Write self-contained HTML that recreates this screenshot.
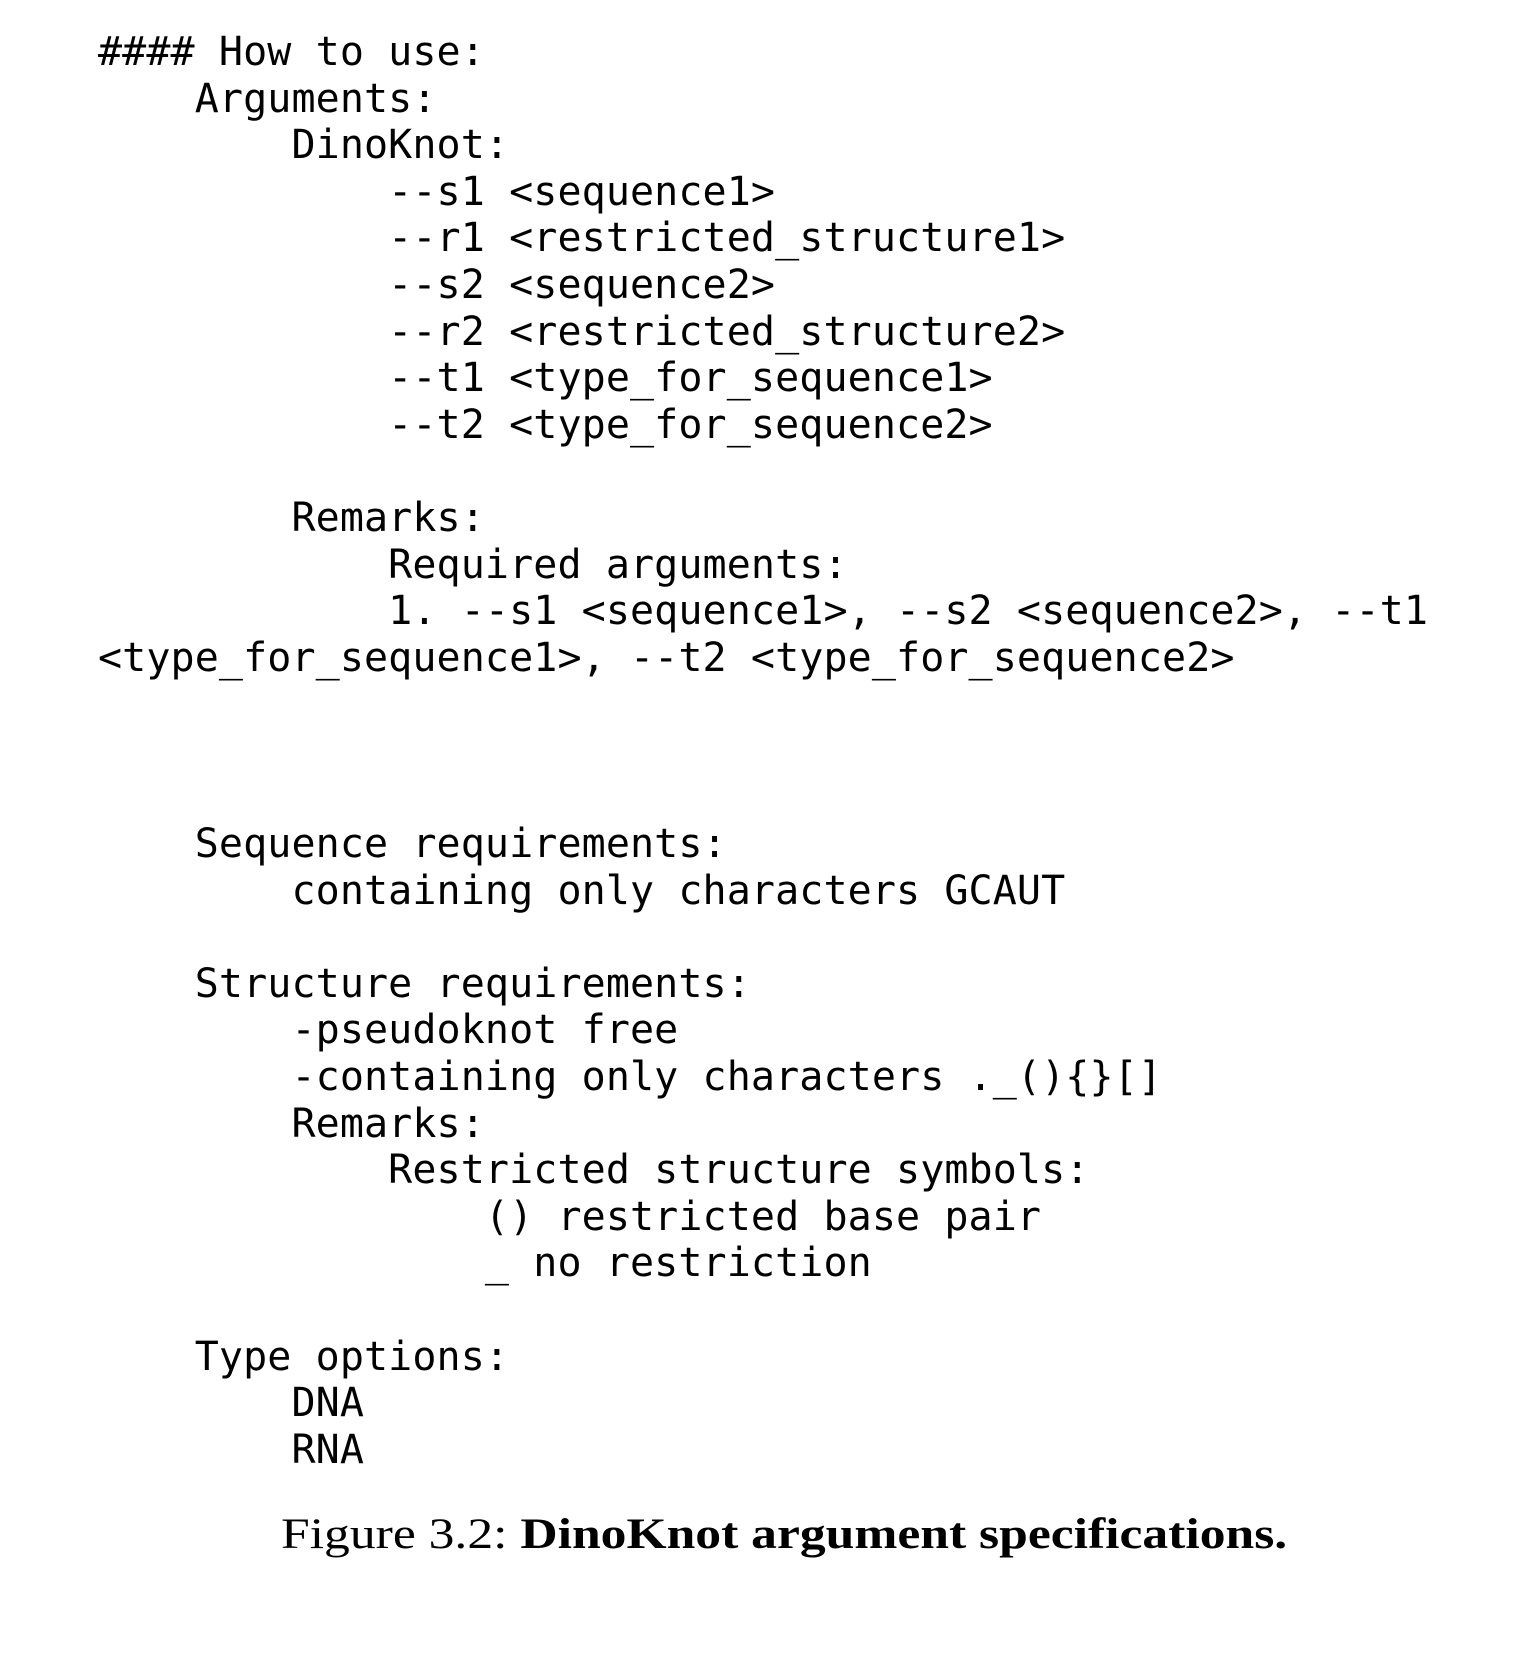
<!DOCTYPE html>
<html><head><style>
html,body{margin:0;padding:0;background:#fff;width:1530px;height:1656px;overflow:hidden}
pre{position:absolute;left:98px;top:29px;margin:0;font-family:"DejaVu Sans Mono","Liberation Mono",monospace;font-size:40px;line-height:46.6px;color:#000;letter-spacing:0.1px}
.cap{position:absolute;left:281px;top:1510px;font-family:"Liberation Serif",serif;font-size:43px;color:#000;white-space:nowrap;transform:scaleX(1.2);transform-origin:0 0}
</style></head><body>
<pre>#### How to use:
    Arguments:
        DinoKnot:
            --s1 &lt;sequence1&gt;
            --r1 &lt;restricted_structure1&gt;
            --s2 &lt;sequence2&gt;
            --r2 &lt;restricted_structure2&gt;
            --t1 &lt;type_for_sequence1&gt;
            --t2 &lt;type_for_sequence2&gt;

        Remarks:
            Required arguments:
            1. --s1 &lt;sequence1&gt;, --s2 &lt;sequence2&gt;, --t1
&lt;type_for_sequence1&gt;, --t2 &lt;type_for_sequence2&gt;



    Sequence requirements:
        containing only characters GCAUT

    Structure requirements:
        -pseudoknot free
        -containing only characters ._(){}[]
        Remarks:
            Restricted structure symbols:
                () restricted base pair
                _ no restriction

    Type options:
        DNA
        RNA</pre>
<div class="cap">Figure 3.2: <b>DinoKnot argument specifications.</b></div>
</body></html>
